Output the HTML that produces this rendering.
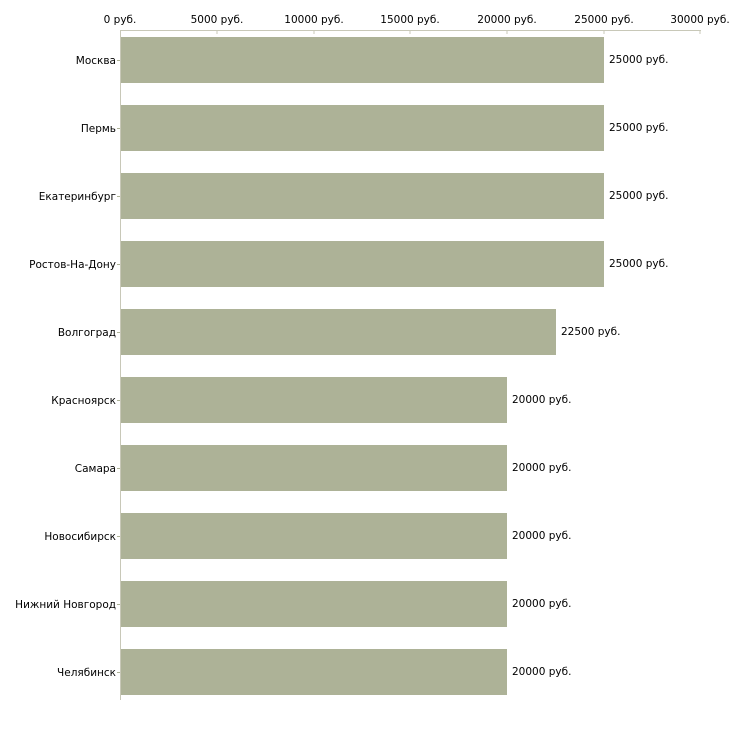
<!DOCTYPE html>
<html><head><meta charset="utf-8"><style>body{margin:0;background:#fff}svg{display:block}text{font-family:"DejaVu Sans","Liberation Sans",sans-serif;font-size:10.5px;fill:#000}</style></head><body>
<svg width="730" height="730" xmlns="http://www.w3.org/2000/svg">
<line x1="120" y1="30.5" x2="701" y2="30.5" stroke="#c8c8b8"/>
<line x1="120.5" y1="30" x2="120.5" y2="700" stroke="#c8c8b8"/>
<g stroke="#c8c8b8">
<line x1="217" y1="30" x2="217" y2="34"/><line x1="314" y1="30" x2="314" y2="34"/><line x1="410" y1="30" x2="410" y2="34"/><line x1="507" y1="30" x2="507" y2="34"/><line x1="604" y1="30" x2="604" y2="34"/><line x1="700" y1="30" x2="700" y2="34"/>
</g>
<g text-anchor="middle">
<text x="120" y="23">0 руб.</text><text x="217" y="23">5000 руб.</text><text x="314" y="23">10000 руб.</text><text x="410" y="23">15000 руб.</text><text x="507" y="23">20000 руб.</text><text x="604" y="23">25000 руб.</text><text x="700" y="23">30000 руб.</text>
</g>
<g fill="#adb297">
<rect x="121" y="37" width="483" height="46"/>
<rect x="121" y="105" width="483" height="46"/>
<rect x="121" y="173" width="483" height="46"/>
<rect x="121" y="241" width="483" height="46"/>
<rect x="121" y="309" width="435" height="46"/>
<rect x="121" y="377" width="386" height="46"/>
<rect x="121" y="445" width="386" height="46"/>
<rect x="121" y="513" width="386" height="46"/>
<rect x="121" y="581" width="386" height="46"/>
<rect x="121" y="649" width="386" height="46"/>
</g>
<g stroke="#adb297">
<line x1="117" y1="60.5" x2="120" y2="60.5"/><line x1="117" y1="128.5" x2="120" y2="128.5"/><line x1="117" y1="196.5" x2="120" y2="196.5"/><line x1="117" y1="264.5" x2="120" y2="264.5"/><line x1="117" y1="332.5" x2="120" y2="332.5"/><line x1="117" y1="400.5" x2="120" y2="400.5"/><line x1="117" y1="468.5" x2="120" y2="468.5"/><line x1="117" y1="536.5" x2="120" y2="536.5"/><line x1="117" y1="604.5" x2="120" y2="604.5"/><line x1="117" y1="672.5" x2="120" y2="672.5"/>
</g>
<g text-anchor="end">
<text x="116" y="64">Москва</text><text x="116" y="132">Пермь</text><text x="116" y="200">Екатеринбург</text><text x="116" y="268">Ростов-На-Дону</text><text x="116" y="336">Волгоград</text><text x="116" y="404">Красноярск</text><text x="116" y="472">Самара</text><text x="116" y="540">Новосибирск</text><text x="116" y="608">Нижний Новгород</text><text x="116" y="676">Челябинск</text>
</g>
<g>
<text x="609" y="63">25000 руб.</text><text x="609" y="131">25000 руб.</text><text x="609" y="199">25000 руб.</text><text x="609" y="267">25000 руб.</text><text x="561" y="335">22500 руб.</text><text x="512" y="403">20000 руб.</text><text x="512" y="471">20000 руб.</text><text x="512" y="539">20000 руб.</text><text x="512" y="607">20000 руб.</text><text x="512" y="675">20000 руб.</text>
</g>
</svg>
</body></html>
